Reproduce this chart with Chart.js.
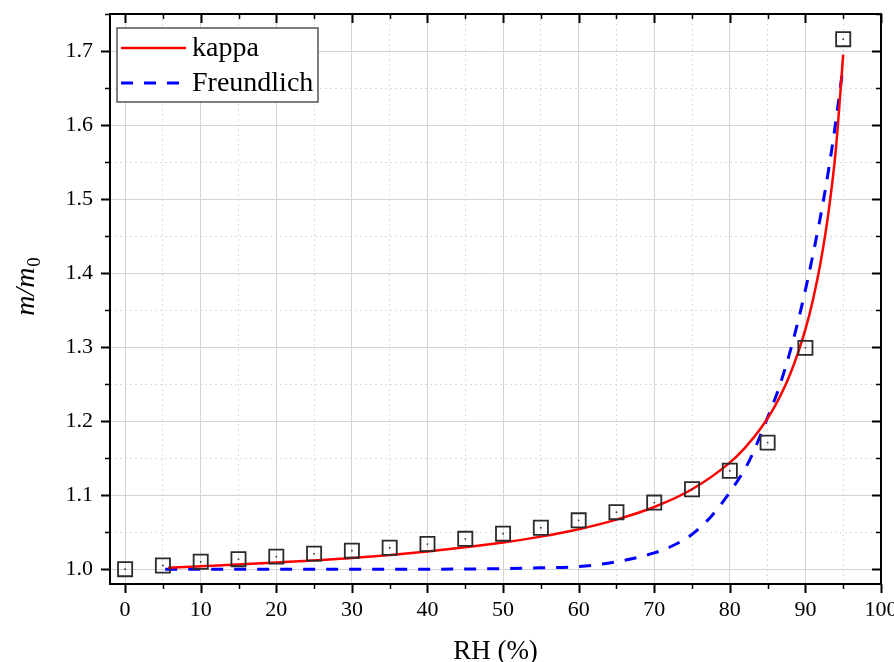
<!DOCTYPE html>
<html>
<head>
<meta charset="utf-8">
<script src="https://cdn.jsdelivr.net/npm/chart.js@4.4.1/dist/chart.umd.min.js"></script>
<style>
    html, body { margin: 0; padding: 0; background: #ffffff; }
</style>
</head>
<body>
<canvas id="graficoUmidade" width="894" height="662"></canvas>
<script>
// Pontos medidos (quadrados)
const rhMedido = [0, 5, 10, 15, 20, 25, 30, 35, 40, 45, 50, 55, 60, 65, 70, 75, 80, 85, 90, 95];
const massaMedida = [1.000, 1.005, 1.010, 1.0135, 1.017, 1.021, 1.025, 1.029, 1.034, 1.041, 1.048, 1.056, 1.066, 1.077, 1.090, 1.108, 1.133, 1.171, 1.299, 1.716];

// Curva kappa
const rhKappa = [5.7, 10, 20, 30, 40, 50, 55, 60, 65, 70, 75, 80, 82, 84, 86, 88, 90, 91, 92, 93, 94, 95];
const ajusteKappa = [1.002, 1.004, 1.009, 1.015, 1.024, 1.036, 1.044, 1.054, 1.067, 1.084, 1.108, 1.144, 1.164, 1.189, 1.221, 1.264, 1.324, 1.364, 1.414, 1.478, 1.564, 1.695];

// Curva Freundlich
const rhFreund = [5.3, 20, 40, 50, 55, 60, 65, 70, 72.5, 75, 77.5, 80, 82.5, 85, 86.5, 88, 89.5, 91, 92.5, 93.75, 95];
const ajusteFreund = [1.000, 1.000, 1.000, 1.0008, 1.0018, 1.0035, 1.010, 1.022, 1.032, 1.047, 1.071, 1.104, 1.145, 1.205, 1.245, 1.295, 1.355, 1.425, 1.505, 1.585, 1.680];

// Eixos
const xMin = -2, xMax = 100, xPasso = 5;
const yMin = 0.98, yMax = 1.75, yPasso = 0.05;
const xRotulo = 'RH (%)';

const fonteSerif = '"Liberation Serif", "Times New Roman", serif';

function juntar(xs, ys) {
    return xs.map((x, i) => ({ x: x, y: ys[i] }));
}

function ehMajorX(v) { return Math.round(v) % 10 === 0; }
function ehMajorY(v) { return Math.round(v * 100) % 10 === 0; }

// moldura, marcas dos eixos, titulos e legenda
const pluginMoldura = {
    id: 'moldura',
    afterDraw(chart) {
        const ctx = chart.ctx;
        const area = chart.chartArea;
        const sx = chart.scales.x;
        const sy = chart.scales.y;
        ctx.save();
        ctx.strokeStyle = '#000';

        // marcas em x (baixo para fora, topo para dentro)
        for (let v = 0; v <= xMax + 0.001; v += xPasso) {
            const px = Math.round(sx.getPixelForValue(v)) + 0.5;
            const major = ehMajorX(v);
            const len = major ? 9 : 5;
            ctx.lineWidth = major ? 2 : 1.5;
            ctx.beginPath();
            ctx.moveTo(px, area.bottom);
            ctx.lineTo(px, area.bottom + len);
            ctx.moveTo(px, area.top);
            ctx.lineTo(px, area.top + len);
            ctx.stroke();
        }
        // marcas em y (esquerda para fora, direita para dentro)
        for (let k = 20; k <= 35; k++) {
            const v = k * yPasso;
            const py = Math.round(sy.getPixelForValue(v)) + 0.5;
            const major = k % 2 === 0;
            const len = major ? 9 : 5;
            ctx.lineWidth = major ? 2 : 1.5;
            ctx.beginPath();
            ctx.moveTo(area.left, py);
            ctx.lineTo(area.left - len, py);
            ctx.moveTo(area.right, py);
            ctx.lineTo(area.right - len, py);
            ctx.stroke();
        }

        // moldura
        ctx.lineWidth = 2;
        ctx.strokeRect(area.left, area.top, area.right - area.left, area.bottom - area.top);

        // titulo x
        ctx.fillStyle = '#000';
        ctx.font = '27px ' + fonteSerif;
        ctx.textAlign = 'center';
        ctx.textBaseline = 'alphabetic';
        ctx.fillText(xRotulo, (area.left + area.right) / 2, 659);

        // titulo y: m/m0 com subscrito
        ctx.save();
        ctx.translate(34, 287);
        ctx.rotate(-Math.PI / 2);
        const fonteIt = 'italic 28px ' + fonteSerif;
        const fonteSub = '19px ' + fonteSerif;
        ctx.font = fonteIt;
        const w1 = ctx.measureText('m/m').width;
        ctx.font = fonteSub;
        const w2 = ctx.measureText('0').width;
        const x0 = -(w1 + w2) / 2;
        ctx.textAlign = 'left';
        ctx.font = fonteIt;
        ctx.fillText('m/m', x0, 0);
        ctx.font = fonteSub;
        ctx.fillText('0', x0 + w1 + 1, 6);
        ctx.restore();

        // legenda
        const caixa = { x: 117, y: 28, w: 201, h: 74 };
        ctx.fillStyle = '#fff';
        ctx.fillRect(caixa.x, caixa.y, caixa.w, caixa.h);
        ctx.strokeStyle = '#555';
        ctx.lineWidth = 1.5;
        ctx.strokeRect(caixa.x, caixa.y, caixa.w, caixa.h);

        const linhas = chart.data.datasets.filter(d => d.naLegenda);
        linhas.forEach((d, i) => {
            const yy = 48 + i * 35;
            ctx.strokeStyle = d.borderColor;
            ctx.lineWidth = d.borderWidth;
            ctx.setLineDash(d.borderDash || []);
            ctx.beginPath();
            ctx.moveTo(121, yy);
            ctx.lineTo(186, yy);
            ctx.stroke();
            ctx.setLineDash([]);
            ctx.fillStyle = '#000';
            ctx.font = '28px ' + fonteSerif;
            ctx.textAlign = 'left';
            ctx.textBaseline = 'middle';
            ctx.fillText(d.label, 192, yy + 1);
        });

        ctx.restore();
    }
};

const ctxGrafico = document.getElementById('graficoUmidade');

const grafico = new Chart(ctxGrafico, {
    type: 'scatter',
    data: {
        datasets: [
            {
                label: 'pontos',
                data: juntar(rhMedido, massaMedida),
                pointStyle: 'rect',
                pointRadius: 10,
                pointBorderColor: '#2b2b2b',
                pointBorderWidth: 1.8,
                pointBackgroundColor: 'rgba(255,255,255,0)',
                showLine: false
            },
            {
                label: 'centro',
                data: juntar(rhMedido, massaMedida),
                pointStyle: 'circle',
                pointRadius: 0.9,
                pointBorderWidth: 0,
                pointBackgroundColor: '#333',
                showLine: false
            },
            {
                label: 'kappa',
                naLegenda: true,
                data: juntar(rhKappa, ajusteKappa),
                showLine: true,
                borderColor: '#ff0000',
                borderWidth: 2.5,
                pointRadius: 0,
                cubicInterpolationMode: 'monotone'
            },
            {
                label: 'Freundlich',
                naLegenda: true,
                data: juntar(rhFreund, ajusteFreund),
                showLine: true,
                borderColor: '#0000ff',
                borderWidth: 3,
                borderDash: [12, 11],
                pointRadius: 0,
                cubicInterpolationMode: 'monotone'
            }
        ]
    },
    options: {
        responsive: false,
        animation: false,
        devicePixelRatio: 1,
        layout: {
            padding: { left: 0, right: 13, top: 14, bottom: 0 }
        },
        plugins: {
            legend: { display: false },
            tooltip: { enabled: false }
        },
        scales: {
            x: {
                type: 'linear',
                min: xMin,
                max: xMax,
                afterFit: (escala) => {
                    escala.height = 78;
                    escala.paddingLeft = 0;
                    escala.paddingRight = 0;
                },
                border: {
                    display: false,
                    dash: (c) => (c.tick && !ehMajorX(c.tick.value)) ? [2, 3] : []
                },
                grid: {
                    drawTicks: false,
                    color: (c) => (c.tick && ehMajorX(c.tick.value)) ? '#d4d4d4' : '#dcdcdc',
                    lineWidth: 1
                },
                ticks: {
                    stepSize: xPasso,
                    includeBounds: false,
                    padding: 13,
                    color: '#000',
                    font: { family: fonteSerif, size: 22 },
                    maxRotation: 0,
                    autoSkip: false,
                    callback: (v) => ehMajorX(v) ? String(Math.round(v)) : ''
                }
            },
            y: {
                type: 'linear',
                min: yMin,
                max: yMax,
                afterFit: (escala) => {
                    escala.width = 110;
                    escala.paddingTop = 0;
                    escala.paddingBottom = 0;
                },
                border: {
                    display: false,
                    dash: (c) => (c.tick && !ehMajorY(c.tick.value)) ? [2, 3] : []
                },
                grid: {
                    drawTicks: false,
                    color: (c) => (c.tick && ehMajorY(c.tick.value)) ? '#d4d4d4' : '#dcdcdc',
                    lineWidth: 1
                },
                ticks: {
                    stepSize: yPasso,
                    includeBounds: false,
                    padding: 17,
                    color: '#000',
                    font: { family: fonteSerif, size: 22 },
                    autoSkip: false,
                    callback: (v) => ehMajorY(v) ? v.toFixed(1) : ''
                }
            }
        }
    },
    plugins: [pluginMoldura]
});
</script>
</body>
</html>
